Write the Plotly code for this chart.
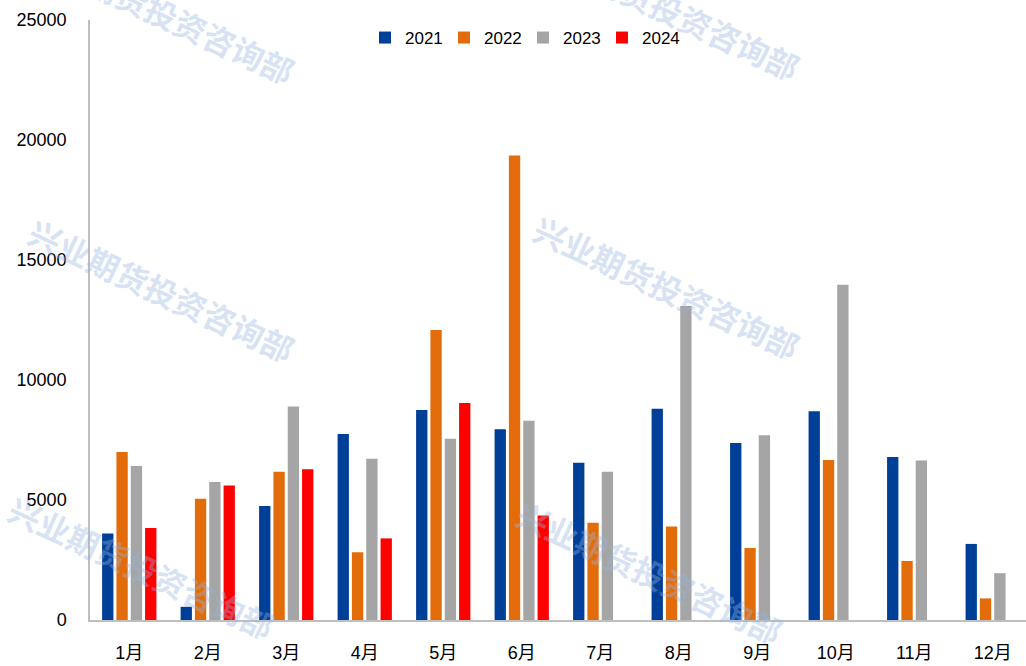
import plotly.graph_objects as go

months = ["1月", "2月", "3月", "4月", "5月", "6月", "7月", "8月", "9月", "10月", "11月", "12月"]
v2021 = [3600, 550, 4750, 7750, 8750, 7950, 6550, 8800, 7380, 8700, 6790, 3170]
v2022 = [7000, 5050, 6180, 2820, 12080, 19350, 4050, 3900, 3000, 6670, 2460, 900]
v2023 = [6420, 5750, 8900, 6720, 7550, 8300, 6180, 13080, 7700, 13970, 6650, 1950]
v2024 = [3830, 5600, 6280, 3400, 9040, 4350, None, None, None, None, None, None]
series_names = ["2021", "2022", "2023", "2024"]
series_colors = ["#003f98", "#e36c0a", "#a5a5a5", "#ff0000"]
y_ticks = [0, 5000, 10000, 15000, 20000, 25000]

watermark = "兴业期货投资咨询部"
wm_pos = [(162, 12), (667, 8), (162, 290), (667, 287), (142, 567), (650, 572)]

fig = go.Figure()
for name, vals, col in zip(series_names, [v2021, v2022, v2023, v2024], series_colors):
    fig.add_trace(go.Bar(x=months, y=vals, name=name, marker_color=col,
                         marker_line_width=0))

W, H = 1026, 666
L, R, T, B = 90, 0, 20, 46
for (px, py) in wm_pos:
    fig.add_annotation(x=(px - L) / (W - L - R), y=1 - (py - T) / (H - T - B),
                       xref="paper", yref="paper", xanchor="center", yanchor="middle",
                       text="<b>" + watermark + "</b>",
                       showarrow=False, textangle=25,
                       font=dict(size=32, color="rgba(150,180,225,0.38)",
                                 family="Noto Sans CJK SC"))

fig.update_layout(
    width=W, height=H,
    margin=dict(l=L, r=R, t=T, b=B, autoexpand=False),
    paper_bgcolor="white", plot_bgcolor="white",
    barmode="group", bargap=0.27, bargroupgap=0.21,
    font=dict(family="Liberation Sans, Noto Sans CJK SC", size=18, color="black"),
    legend=dict(orientation="h", x=(365 - L) / (W - L), xanchor="left", y=1.0, yanchor="top",
                font=dict(size=17), itemwidth=30, entrywidth=34, entrywidthmode="pixels",
                bgcolor="rgba(0,0,0,0)", tracegroupgap=0),
    xaxis=dict(range=[-0.5, 11.424], showline=True, linecolor="#bfbfbf", linewidth=1.5,
               ticks="", showgrid=False, ticklabelstandoff=16, automargin=False,
               tickfont=dict(size=18, family="Liberation Sans, Noto Sans CJK SC")),
    yaxis=dict(range=[0, 25000], tickvals=y_ticks, tickformat="d", showline=True,
               linecolor="#bfbfbf", linewidth=1.5, showgrid=False, zeroline=False,
               ticks="", ticklabelstandoff=18, automargin=False, tickfont=dict(size=18)),
)

fig.write_html("out.html", config={"displayModeBar": False},
               post_script="document.body.style.margin='0';document.body.style.overflow='hidden';")
